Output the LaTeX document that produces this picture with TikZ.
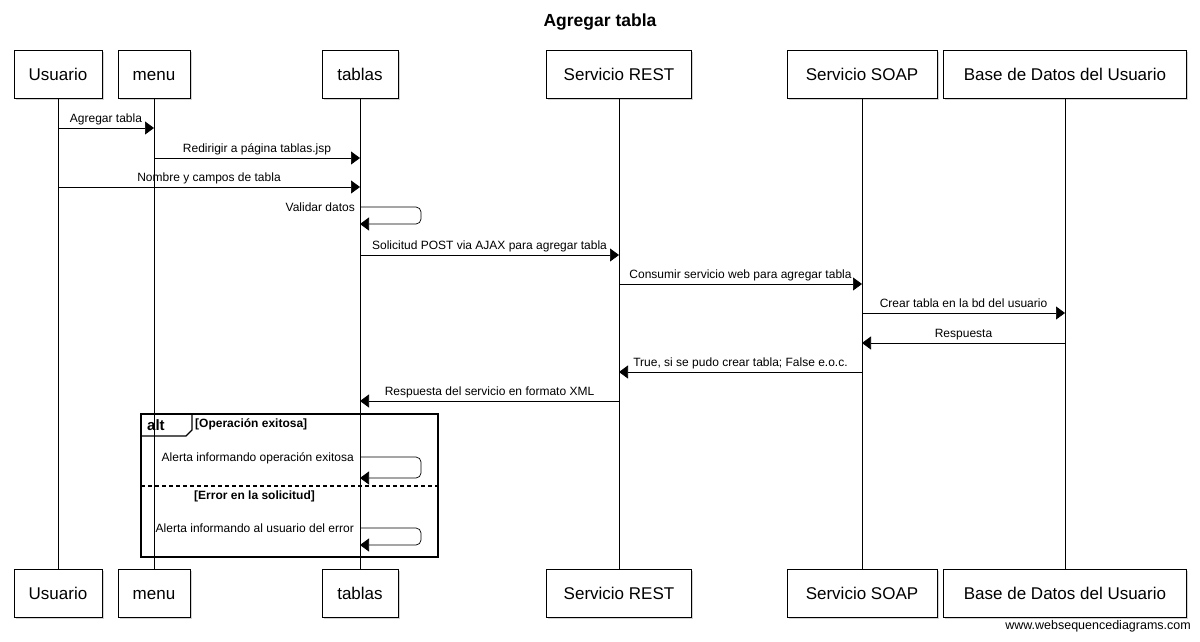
\documentclass[tikz,border=0pt]{standalone}
\usepackage{fontspec}
\setmainfont{Liberation Sans}
\usetikzlibrary{arrows.meta,shadows}

\begin{document}
\begin{tikzpicture}[x=1pt,y=-1pt,
  actor/.style={draw,fill=white,minimum height=48pt,inner sep=0pt,
    text height=12.5pt,text depth=0pt,
    font=\fontsize{17}{20}\selectfont,
    drop shadow={shadow xshift=1.5pt,shadow yshift=-1.5pt,opacity=0.35}},
  msg/.style={-{Triangle[length=9pt,width=13pt]},line width=0.7pt},
  lbl/.style={font=\fontsize{12}{14}\selectfont,inner xsep=2pt,inner ysep=5pt,text depth=0pt},
  guard/.style={font=\bfseries\fontsize{12}{14}\selectfont,inner sep=0pt}]
\useasboundingbox (0,0) rectangle (1200,641);

\node[font=\bfseries\fontsize{17.5}{21}\selectfont] (title) at (600,22) {Agregar tabla};

% participants, top and bottom
\node[actor,minimum width=88pt] (usrT) at (58,74) {Usuario};
\node[actor,minimum width=72pt] (menuT) at (154,74) {menu};
\node[actor,minimum width=76pt] (tblT) at (360,74) {tablas};
\node[actor,minimum width=145pt] (restT) at (619,74) {Servicio REST};
\node[actor,minimum width=150pt] (soapT) at (862,74) {Servicio SOAP};
\node[actor,minimum width=243pt] (bdT) at (1065,74) {Base de Datos del Usuario};
\node[actor,minimum width=88pt] (usrB) at (58,593) {Usuario};
\node[actor,minimum width=72pt] (menuB) at (154,593) {menu};
\node[actor,minimum width=76pt] (tblB) at (360,593) {tablas};
\node[actor,minimum width=145pt] (restB) at (619,593) {Servicio REST};
\node[actor,minimum width=150pt] (soapB) at (862,593) {Servicio SOAP};
\node[actor,minimum width=243pt] (bdB) at (1065,593) {Base de Datos del Usuario};

\foreach \p in {usr,menu,tbl,rest,soap,bd}
  \draw[line width=0.7pt] (\p T) -- (\p B);

% messages
\draw[msg] (usrT |- 0,128) -- node[lbl,above] {Agregar tabla} (menuT |- 0,128);
\draw[msg] (menuT |- 0,158) -- node[lbl,above] {Redirigir a página tablas.jsp} (tblT |- 0,158);
\draw[msg] (usrT |- 0,187) -- node[lbl,above] {Nombre y campos de tabla} (tblT |- 0,187);
\draw[msg,rounded corners=5pt] (tblT |- 0,207) -- ++(61,0) |- (tblT |- 0,224);
\node[lbl,anchor=base east,inner sep=0pt] (val) at ([xshift=-5pt]tblT |- 0,211) {Validar datos};
\draw[msg] (tblT |- 0,255) -- node[lbl,above] {Solicitud POST via AJAX para agregar tabla} (restT |- 0,255);
\draw[msg] (restT |- 0,284) -- node[lbl,above] {Consumir servicio web para agregar tabla} (soapT |- 0,284);
\draw[msg] (soapT |- 0,313) -- node[lbl,above] {Crear tabla en la bd del usuario} (bdT |- 0,313);
\draw[msg] (bdT |- 0,343) -- node[lbl,above] {Respuesta} (soapT |- 0,343);
\draw[msg] (soapT |- 0,372) -- node[lbl,above] {True, si se pudo crear tabla; False e.o.c.} (restT |- 0,372);
\draw[msg] (restT |- 0,401) -- node[lbl,above] {Respuesta del servicio en formato XML} (tblT |- 0,401);

% alt frame
\draw[line width=1.4pt] (141,414) rectangle (438,557);
\draw[line width=1.1pt] (141,436) -- (186,436) -- (192,430) -- (192,414);
\node[font=\bfseries\fontsize{15}{18}\selectfont,anchor=base west,inner sep=0pt] (alt) at (147,430) {alt};
\node[guard,anchor=base west] (ok) at (195,427) {[Operación exitosa]};
\draw[line width=1.2pt,dash pattern=on 4pt off 3pt] (141,486) -- (438,486);
\node[guard,anchor=base west] (err) at (194,499) {[Error en la solicitud]};
\draw[msg,rounded corners=5pt] (tblT |- 0,457) -- ++(61,0) |- (tblT |- 0,478);
\node[lbl,anchor=base east,inner sep=0pt] (okmsg) at ([xshift=-6pt]tblT |- 0,461) {Alerta informando operación exitosa};
\draw[msg,rounded corners=5pt] (tblT |- 0,528) -- ++(61,0) |- (tblT |- 0,545);
\node[lbl,anchor=base east,inner sep=0pt] (errmsg) at ([xshift=-6pt]tblT |- 0,532) {Alerta informando al usuario del error};

\node[font=\fontsize{12.5}{15}\selectfont,anchor=east,inner sep=0pt] (web) at (1191,626) {www.websequencediagrams.com};
\end{tikzpicture}
\end{document}
